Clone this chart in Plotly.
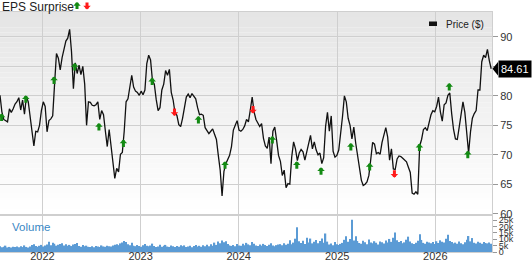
import pandas as pd
import plotly.graph_objects as go

# ---------------- data ----------------
start_date = "2021-07-27"   # first weekly close
price = [
    80.1, 77.3, 76.0, 75.8, 75.6, 77.8, 77.2, 77.8, 78.6, 79.0,
    79.7, 77.6, 79.3, 76.9, 79.8, 79.0, 76.3, 74.2, 71.5, 74.0,
    73.9, 75.0, 77.5, 79.0, 78.2, 73.9, 75.8, 76.1, 76.6, 82.0,
    87.2, 86.4, 84.4, 86.5, 88.0, 89.3, 89.8, 91.3, 87.5, 81.2,
    85.6, 83.8, 85.2, 83.6, 85.0, 82.0, 75.0, 79.0, 78.9, 78.4,
    78.3, 78.5, 79.0, 76.0, 77.5, 76.8, 74.0, 71.4, 74.3, 71.6,
    68.7, 66.0, 67.7, 67.1, 70.1, 70.4, 74.0, 79.0, 79.5, 82.0,
    83.5, 81.5, 80.8, 80.6, 80.1, 80.8, 80.2, 81.0, 85.5, 86.9,
    86.1, 82.6, 82.0, 79.4, 77.5, 78.0, 81.0, 82.0, 84.3, 83.5,
    84.5, 80.6, 79.3, 77.1, 76.7, 75.1, 74.8, 76.2, 78.0, 79.8,
    80.3, 79.7, 80.4, 80.0, 79.5, 78.0, 76.8, 76.9, 76.7, 74.6,
    74.0, 73.6, 74.0, 74.4, 73.5, 72.6, 69.9, 67.4, 63.0, 67.2,
    68.5, 69.3, 69.9, 71.4, 74.2, 75.0, 75.8, 74.2, 74.0, 74.3,
    74.9, 76.0, 75.6, 77.6, 79.8, 77.3, 76.0, 75.4, 74.8, 75.3,
    72.8, 71.5, 71.1, 73.0, 68.5, 74.0, 74.7, 72.4, 69.9, 68.9,
    66.5, 67.4, 64.4, 65.1, 65.0, 69.6, 72.2, 71.0, 69.0, 70.3,
    70.9, 70.5, 69.1, 70.5, 72.0, 73.3, 71.0, 72.2, 70.8, 70.0,
    70.3, 68.5, 69.5, 74.8, 77.2, 74.0, 76.6, 70.6, 69.6, 69.9,
    70.8, 73.5, 76.5, 80.0, 79.0, 76.2, 75.0, 72.7, 74.7, 72.0,
    69.9, 68.0, 65.7, 64.8, 65.0, 65.4, 66.5, 69.2, 72.1, 71.8,
    70.2, 70.4, 70.1, 72.1, 73.2, 74.6, 73.0, 69.1, 71.0, 67.6,
    67.5, 69.3, 69.8, 69.7, 69.4, 69.1, 68.8, 67.9, 67.0, 63.5,
    63.3, 63.7, 63.3, 71.5, 72.6, 74.3, 74.6, 74.1, 75.5, 76.8,
    77.5, 77.3, 78.2, 79.8, 77.3, 75.7, 78.5, 78.8, 80.1, 80.5,
    77.0, 74.3, 72.7, 72.6, 74.7, 77.1, 79.0, 77.2, 73.8, 70.3,
    73.9, 76.2, 77.0, 77.5, 81.0, 81.0, 85.8, 86.9, 86.5, 87.9,
    86.0, 84.61,
]
volume_k = [
    4.5, 3.8, 4.2, 5.0, 3.6, 4.0, 3.5, 4.1, 3.9, 4.4,
    3.7, 4.6, 3.9, 5.2, 4.0, 3.6, 4.3, 5.5, 6.2, 4.8,
    4.1, 4.9, 5.6, 4.4, 5.1, 6.0, 8.1, 5.3, 7.2, 6.5,
    5.0, 5.8, 6.4, 7.0, 5.2, 6.1, 4.9, 5.6, 4.7, 5.9,
    6.3, 7.1, 4.8, 4.2, 5.5, 4.6, 5.0, 4.1, 3.9, 4.5,
    3.8, 4.7, 4.3, 4.0, 5.2, 4.4, 4.1, 5.0, 4.6, 4.3,
    5.1, 5.7, 6.2, 5.4, 6.8, 7.5, 8.6, 7.9, 6.1, 5.3,
    7.2, 5.0, 4.6, 5.5, 4.8, 4.2, 5.3, 6.4, 4.9, 4.5,
    5.1, 6.6, 4.7, 3.9, 4.4, 5.8, 4.2, 5.0, 5.6, 4.3,
    4.0, 5.1, 4.5, 3.9, 4.8, 4.2, 5.4, 4.6, 5.2, 4.0,
    4.4, 5.0, 3.8, 4.7, 5.5, 4.3, 4.9, 4.1, 5.3, 4.6,
    5.8, 4.5, 6.2, 5.0, 7.4, 5.6, 8.3, 6.9, 9.0, 7.7,
    8.5, 6.4, 5.2, 4.8, 5.5, 4.6, 6.3, 5.1, 4.9, 6.6,
    5.4, 7.2, 6.0, 5.3, 7.8, 6.5, 5.2, 4.7, 5.9, 5.0,
    6.4, 5.5, 4.8, 5.7, 6.9, 5.1, 4.6, 5.4, 5.9, 6.2,
    5.3, 7.0, 5.8, 6.6, 9.2, 6.1, 7.4, 10.5, 19.5, 8.4,
    7.1, 8.8, 6.3, 11.2, 7.5, 10.6, 6.8, 8.1, 9.4, 7.0,
    8.6, 10.7, 7.3, 14.6, 8.2, 5.9, 6.7, 5.3, 7.9, 6.1,
    5.6, 6.4, 7.2, 9.6, 12.5, 8.0, 10.2, 25.5, 9.1, 12.4,
    8.7, 7.1, 6.5, 8.9, 7.6, 6.2, 9.8, 7.4, 6.9, 8.5,
    7.3, 6.0, 8.2, 7.7, 6.8, 9.1, 7.5, 10.3, 8.0, 11.2,
    15.4, 9.3, 7.8, 8.6, 6.9, 7.6, 9.7, 12.1, 8.3, 7.0,
    6.4, 7.3, 8.8, 14.1, 9.5, 7.2, 6.6, 8.1, 7.4, 6.9,
    7.8, 6.3, 8.5, 7.1, 9.2, 8.0, 7.5, 10.4, 13.6, 8.7,
    7.9, 6.8, 7.4, 6.5, 8.2, 7.0, 6.1, 7.7, 9.6, 12.6,
    8.4, 11.0, 7.2, 6.7, 8.0, 7.3, 6.6, 7.9, 7.1, 6.8,
    7.4, 6.5,
]
eps_beat_dates = [
    "2021-08-02", "2021-10-31", "2022-02-13", "2022-05-01", "2022-07-30",
    "2022-10-29", "2023-02-13", "2023-08-04", "2023-11-11", "2024-05-05",
    "2024-08-04", "2024-11-02", "2025-02-21", "2025-05-02", "2025-11-03",
    "2026-02-22", "2026-05-02",
]
eps_beat_prices = [
    77.0, 80.1, 83.3, 85.6, 75.4, 72.6, 83.1, 76.6, 68.9, 73.2,
    68.9, 67.9, 72.0, 68.6, 71.9, 82.2, 70.7,
]
eps_miss_dates = ["2023-05-07", "2024-02-23", "2025-08-02"]
eps_miss_prices = [76.6, 77.0, 66.1]

price_tick_vals = [60, 65, 70, 75, 80, 85, 90]
price_tick_text = ["60", "65", "70", "75", "80", "", "90"]
vol_tick_vals = [0, 5, 10, 15, 20, 25]
vol_tick_text = ["0", "5k", "10k", "15k", "20k", "25k"]
x_range = ["2021-07-27", "2026-07-31"]
price_range = [60, 94.24]
vol_range = [0, 28.4]
last_price_label = "84.61"

# ---------------- figure ----------------
FONT = "Liberation Sans, Arial, sans-serif"
GRID = "#cfcfcf"
GREEN = "#138a13"
RED = "#ff1a1a"
ARROW = dict(showarrow=True, arrowhead=1, arrowsize=0.42, arrowwidth=3, standoff=0, text="")

dates = pd.date_range(start_date, periods=len(price), freq="7D")

fig = go.Figure()
fig.add_trace(go.Bar(
    x=dates, y=volume_k, xaxis="x2", yaxis="y2",
    marker=dict(color="#5b9bd5", line=dict(width=0)),
    showlegend=False, hoverinfo="skip",
))
fig.add_trace(go.Scatter(
    x=dates, y=price, mode="lines", xaxis="x", yaxis="y",
    line=dict(color="#111111", width=1.3),
    showlegend=False,
))

# gradient background in the price panel
n = 40
for i in range(n):
    c = int(round(229 + (255 - 229) * (i / (n - 1))))
    fig.add_shape(
        type="rect", xref="x domain", yref="y domain",
        x0=0, x1=1, y0=1 - (i + 1) / n, y1=1 - i / n,
        fillcolor=f"rgb({c},{c},{c})", line=dict(width=0), layer="below",
    )

annotations = []
for d, p in zip(eps_beat_dates, eps_beat_prices):
    annotations.append(dict(x=d, y=p, xref="x", yref="y", ax=0, ay=9,
                            arrowcolor=GREEN, **ARROW))
for d, p in zip(eps_miss_dates, eps_miss_prices):
    annotations.append(dict(x=d, y=p, xref="x", yref="y", ax=0, ay=-9,
                            arrowcolor=RED, **ARROW))

PW, PH = 492.0, 240.0  # plot area size in px (for decorative placement)

annotations += [
    dict(x=0, y=(252 - 7) / PH, xref="paper", yref="paper", text="EPS Surprise",
         showarrow=False, xanchor="left", yanchor="middle",
         font=dict(family=FONT, size=12, color="#222222")),
    dict(x=77 / PW, y=(252 - 2) / PH, xref="paper", yref="paper", ax=0, ay=8.5,
         arrowcolor=GREEN, **ARROW),
    dict(x=87 / PW, y=(252 - 9.5) / PH, xref="paper", yref="paper", ax=0, ay=-8.5,
         arrowcolor=RED, **ARROW),
    dict(x=10 / PW, y=(252 - 226.7) / PH, xref="paper", yref="paper", text="Volume",
         showarrow=False, xanchor="left", yanchor="middle",
         font=dict(family=FONT, size=11.5, color="#3a87c4")),
    dict(x=444 / PW, y=(252 - 24) / PH, xref="paper", yref="paper", text="Price ($)",
         showarrow=False, xanchor="left", yanchor="middle",
         font=dict(family=FONT, size=10, color="#222222")),
    dict(x=1, y=price[-1], xref="paper", yref="y", text=last_price_label,
         showarrow=False, xanchor="left", yanchor="middle", xshift=5.5,
         bgcolor="#000000", borderpad=2,
         font=dict(family=FONT, size=11, color="#ffffff")),
]

shapes_extra = [
    # legend swatch
    dict(type="rect", xref="paper", yref="paper",
         x0=429 / PW, x1=437 / PW, y0=(252 - 26) / PH, y1=(252 - 21.5) / PH,
         fillcolor="#111111", line=dict(width=0)),
    # pointer of the last-price label
    dict(type="path", xref="paper", yref="y", xsizemode="pixel", ysizemode="pixel",
         xanchor=1, yanchor=price[-1], path="M0.5,0 L6,-6.7 L6,6.7 Z",
         fillcolor="#000000", line=dict(width=0)),
]
for s in shapes_extra:
    fig.add_shape(**s)

fig.update_layout(
    width=532, height=262,
    margin=dict(l=0, r=40, t=12, b=10, autoexpand=False),
    paper_bgcolor="#ffffff", plot_bgcolor="#ffffff",
    font=dict(family=FONT, size=11, color="#333333"),
    bargap=0.3,
    showlegend=False,
    annotations=annotations,
    xaxis=dict(
        domain=[0, 1], anchor="y", type="date", range=x_range,
        tick0="2022-01-01", dtick="M12", showticklabels=False, ticks="",
        showgrid=True, gridcolor=GRID, gridwidth=1, automargin=False,
        showline=True, linecolor=GRID, mirror=True, zeroline=False,
    ),
    yaxis=dict(
        domain=[(252 - 213.7) / PH, 1], anchor="x", range=price_range,
        side="right", tickvals=price_tick_vals, ticktext=price_tick_text,
        ticks="outside", ticklen=5, tickcolor="#999999", automargin=False,
        tickfont=dict(family=FONT, size=11, color="#333333"),
        showgrid=True, gridcolor=GRID, gridwidth=1,
        showline=True, linecolor=GRID, zeroline=False,
    ),
    xaxis2=dict(
        domain=[0, 1], anchor="y2", type="date", matches="x",
        tick0="2022-01-01", dtick="M12", tickformat="%Y", ticks="",
        ticklabelstandoff=-6, automargin=False,
        tickfont=dict(family=FONT, size=11, color="#333333"),
        showgrid=True, gridcolor=GRID, gridwidth=1,
        showline=True, linecolor=GRID, mirror=True, zeroline=False,
    ),
    yaxis2=dict(
        domain=[0, (252 - 216) / PH], anchor="x2", range=vol_range,
        side="right", tickvals=vol_tick_vals, ticktext=vol_tick_text,
        ticks="outside", ticklen=4, tickcolor="#999999", automargin=False,
        tickfont=dict(family=FONT, size=9, color="#333333"),
        showgrid=False, showline=True, linecolor=GRID, zeroline=False,
    ),
)

fig.write_html("out.html")
